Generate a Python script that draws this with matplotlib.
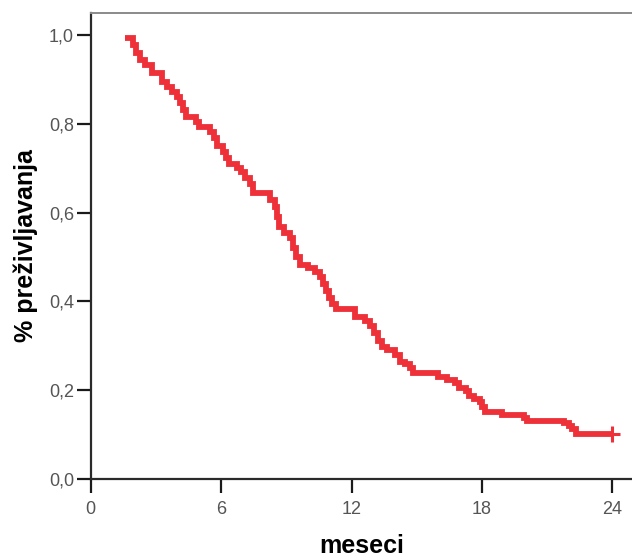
import matplotlib
matplotlib.use("Agg")
import matplotlib.pyplot as plt
from matplotlib.ticker import FuncFormatter

# Kaplan-Meier step curve: level starting at each time (months)
times = [1.58, 1.95, 2.08, 2.27, 2.50, 2.82, 3.28, 3.51, 3.74, 3.97,
         4.11, 4.25, 4.38, 4.84, 4.98, 5.49, 5.67, 5.81, 6.08, 6.22,
         6.36, 6.73, 6.91, 7.10, 7.33, 7.46, 8.25, 8.48, 8.57, 8.66,
         8.89, 9.17, 9.30, 9.44, 9.63, 9.99, 10.32, 10.55, 10.68, 10.82,
         10.96, 11.10, 11.28, 12.15, 12.62, 12.85, 13.03, 13.22, 13.40, 13.63,
         14.00, 14.23, 14.46, 14.69, 14.83, 15.98, 16.39, 16.76, 16.94, 17.26,
         17.40, 17.63, 17.91, 18.00, 18.14, 18.92, 19.93, 20.07, 21.77, 22.00,
         22.14, 22.32]
survival = [0.993, 0.977, 0.959, 0.944, 0.932, 0.914, 0.894, 0.883, 0.872, 0.860,
            0.847, 0.831, 0.815, 0.804, 0.793, 0.782, 0.768, 0.750, 0.736, 0.723,
            0.709, 0.700, 0.691, 0.678, 0.664, 0.644, 0.628, 0.613, 0.590, 0.568,
            0.554, 0.543, 0.520, 0.500, 0.482, 0.475, 0.466, 0.455, 0.439, 0.423,
            0.408, 0.394, 0.383, 0.365, 0.356, 0.345, 0.329, 0.311, 0.297, 0.291,
            0.279, 0.264, 0.259, 0.250, 0.239, 0.230, 0.223, 0.216, 0.205, 0.198,
            0.187, 0.180, 0.173, 0.162, 0.151, 0.144, 0.137, 0.131, 0.126, 0.119,
            0.113, 0.101]
censor_time = [24.0]
censor_surv = [0.101]

x_ticks = [0, 6, 12, 18, 24]
y_ticks = [0.0, 0.2, 0.4, 0.6, 0.8, 1.0]
x_label = "meseci"
y_label = "% preživljavanja"

plt.rcParams['font.family'] = ['Liberation Sans', 'DejaVu Sans']

fig = plt.figure(figsize=(6.32, 5.59), dpi=100)
ax = fig.add_axes([0.1435, 0.1431, 0.8565, 0.8336])

red = '#EE3139'
xs = times + censor_time
ys = survival + censor_surv
ax.step(xs, ys, where='post', color=red, lw=4.2, solid_joinstyle='miter',
        solid_capstyle='butt')
ax.plot(censor_time, censor_surv, marker='+', color=red, ms=11, mew=2.2, ls='none')

ax.set_xlim(0, 24.9)
ax.set_ylim(0, 1.05)
ax.set_xticks(x_ticks)
ax.set_yticks(y_ticks)
ax.yaxis.set_major_formatter(FuncFormatter(lambda v, p: f"{v:.1f}".replace('.', ',')))

for s in ['left', 'bottom']:
    ax.spines[s].set_color('#2a2a2a')
    ax.spines[s].set_linewidth(1.6)
ax.spines['top'].set_color('#8a8a8a')
ax.spines['top'].set_linewidth(1.4)
ax.spines['right'].set_visible(False)

ax.tick_params(axis='both', direction='out', length=10, width=1.6, color='#1a1a1a',
               labelsize=13, labelcolor='#555555')
ax.tick_params(axis='x', pad=6)
ax.tick_params(axis='y', pad=2)

ax.set_xlabel(x_label, fontsize=18, fontweight='bold', labelpad=11)
ax.set_ylabel(y_label, fontsize=18, fontweight='bold', labelpad=8)

fig.savefig('out.png', dpi=100)
